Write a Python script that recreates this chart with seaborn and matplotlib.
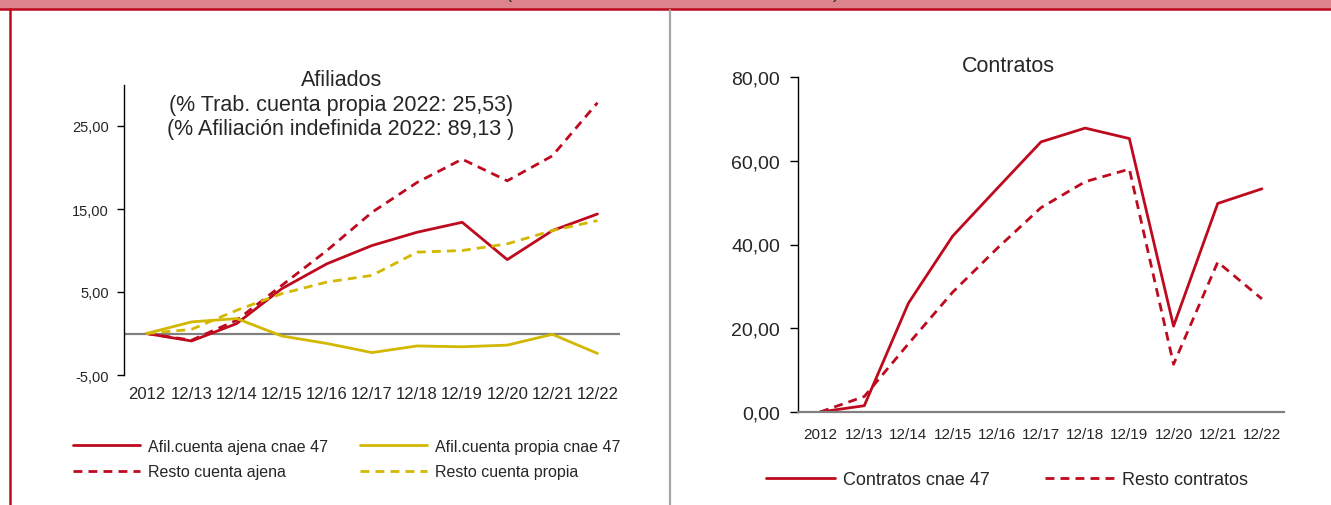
import numpy as np
import pandas as pd
import matplotlib
matplotlib.use("Agg")
import matplotlib.pyplot as plt
import seaborn as sns
from matplotlib.lines import Line2D
from matplotlib.patches import Rectangle

# ==========================================
# DATA
# ==========================================

periods = ["2012", "12/13", "12/14", "12/15", "12/16", "12/17",
           "12/18", "12/19", "12/20", "12/21", "12/22"]

# Afiliados (variacion % acumulada)
afil_ajena_47 = [0, -0.9, 1.2, 5.4, 8.4, 10.6, 12.2, 13.4, 8.9, 12.4, 14.4]
afil_propia_47 = [0, 1.4, 1.8, -0.3, -1.2, -2.3, -1.5, -1.6, -1.4, -0.1, -2.4]
resto_ajena = [0, -0.8, 1.6, 5.8, 10.0, 14.6, 18.2, 21.0, 18.4, 21.4, 27.8]
resto_propia = [0, 0.5, 2.8, 4.8, 6.2, 7.0, 9.8, 10.0, 10.8, 12.4, 13.6]

# Contratos
contratos_47 = [0, 1.5, 26.0, 42.0, 53.3, 64.5, 67.8, 65.3, 20.5, 49.8, 53.3]
resto_contratos = [0, 3.7, 16.3, 28.6, 39.0, 48.8, 55.0, 58.0, 11.4, 35.8, 27.0]

left_yticks = [-5, 5, 15, 25]
right_yticks = [0, 20, 40, 60, 80]

RED = "#BE0A1E"
YELLOW = "#D2B800"
DASH = (0, (3.2, 2.2))

# ==========================================
# STYLE
# ==========================================

sns.set_style("white")
plt.rcParams["font.family"] = ["Liberation Sans", "DejaVu Sans"]

W, H = 1331, 506
fig = plt.figure(figsize=(W / 100, H / 100), dpi=100)


def fx(px):
    return px / W


def fy(py):
    return 1 - py / H


def fmt(v):
    return f"{v:.2f}".replace(".", ",")


# ==========================================
# FRAME / BANNER
# ==========================================

fig.patches.append(Rectangle((0, fy(9)), 1, 9 / H, transform=fig.transFigure,
                             color="#DC848C", zorder=0))
fig.add_artist(Line2D([0, 1], [fy(10), fy(10)], transform=fig.transFigure,
                      color=RED, lw=1.8))
fig.add_artist(Line2D([fx(10), fx(10)], [0, fy(10)], transform=fig.transFigure,
                      color=RED, lw=1.8))
fig.add_artist(Line2D([fx(670), fx(670)], [0, fy(11)], transform=fig.transFigure,
                      color="#A6A6A6", lw=1.6))
# bottom of the clipped banner title
fig.text(fx(509), fy(-1.5), "(", fontsize=13, ha="center", va="baseline")
fig.text(fx(836), fy(-1.5), ")", fontsize=13, ha="center", va="baseline")

# ==========================================
# LEFT: AFILIADOS
# ==========================================

x = np.arange(len(periods))
df_afil = pd.DataFrame({
    "x": x,
    "ajena47": afil_ajena_47,
    "propia47": afil_propia_47,
    "resto_ajena": resto_ajena,
    "resto_propia": resto_propia,
})

ax1 = fig.add_axes([fx(124), fy(376), fx(620) - fx(124), fy(85.5) - fy(376)])
ax1.axhline(0, color="#808080", lw=1.6, zorder=1)

sns.lineplot(data=df_afil, x="x", y="ajena47", ax=ax1, color=RED, lw=2,
             sort=False, label="Afil.cuenta ajena cnae 47")
sns.lineplot(data=df_afil, x="x", y="resto_ajena", ax=ax1, color=RED, lw=2,
             linestyle=DASH, sort=False, label="Resto cuenta ajena")
sns.lineplot(data=df_afil, x="x", y="propia47", ax=ax1, color=YELLOW, lw=2,
             sort=False, label="Afil.cuenta propia cnae 47")
sns.lineplot(data=df_afil, x="x", y="resto_propia", ax=ax1, color=YELLOW, lw=2,
             linestyle=DASH, sort=False, label="Resto cuenta propia")

ax1.set_xlim(-0.5, 10.5)
ax1.set_ylim(-5, 30)
ax1.set_xticks(x)
ax1.set_xticklabels(periods, fontsize=12)
ax1.set_yticks(left_yticks)
ax1.set_yticklabels([fmt(v) for v in left_yticks], fontsize=10.5)
ax1.tick_params(axis="x", length=0, pad=8)
ax1.tick_params(axis="y", direction="out", length=5, width=1, color="black", pad=6,
                left=True)
ax1.set_xlabel("")
ax1.set_ylabel("")
for s in ["top", "right", "bottom"]:
    ax1.spines[s].set_visible(False)
ax1.spines["left"].set_color("black")
ax1.spines["left"].set_linewidth(1)

ax1.legend_.remove()
h1, l1 = ax1.get_legend_handles_labels()
fig.legend(h1, l1, loc="center left", bbox_to_anchor=(fx(73), fy(460)),
           ncol=2, frameon=False, fontsize=11.5, handlelength=4.2,
           handletextpad=0.5, columnspacing=2.0, labelspacing=0.65,
           borderpad=0, borderaxespad=0)

fig.text(fx(342), fy(80), "Afiliados", fontsize=15.5, ha="center", va="center")
fig.text(fx(341), fy(105), "(% Trab. cuenta propia 2022: 25,53)", fontsize=15.5,
         ha="center", va="center")
fig.text(fx(341), fy(130), "(% Afiliación indefinida 2022: 89,13 )", fontsize=15.5,
         ha="center", va="center")

# ==========================================
# RIGHT: CONTRATOS
# ==========================================

df_con = pd.DataFrame({
    "x": x,
    "contratos47": contratos_47,
    "resto": resto_contratos,
})

ax2 = fig.add_axes([fx(798), fy(413), fx(1284) - fx(798), fy(78) - fy(413)])
sns.lineplot(data=df_con, x="x", y="contratos47", ax=ax2, color=RED, lw=2,
             sort=False, label="Contratos cnae 47")
sns.lineplot(data=df_con, x="x", y="resto", ax=ax2, color=RED, lw=2,
             linestyle=DASH, sort=False, label="Resto contratos")

ax2.set_xlim(-0.5, 10.5)
ax2.set_ylim(0, 80)
ax2.set_xticks(x)
ax2.set_xticklabels(periods, fontsize=11)
ax2.set_yticks(right_yticks)
ax2.set_yticklabels([fmt(v) for v in right_yticks], fontsize=14)
ax2.tick_params(axis="x", length=0, pad=11)
ax2.tick_params(axis="y", direction="out", length=6, width=1, color="black", pad=7,
                left=True)
ax2.set_xlabel("")
ax2.set_ylabel("")
for s in ["top", "right"]:
    ax2.spines[s].set_visible(False)
ax2.spines["left"].set_color("black")
ax2.spines["left"].set_linewidth(1)
ax2.spines["bottom"].set_color("#808080")
ax2.spines["bottom"].set_linewidth(1.6)

ax2.legend_.remove()
h2, l2 = ax2.get_legend_handles_labels()
fig.legend(h2, l2, loc="center left", bbox_to_anchor=(fx(766), fy(481)),
           ncol=2, frameon=False, fontsize=13, handlelength=3.8,
           handletextpad=0.45, columnspacing=3.1, borderpad=0, borderaxespad=0)

fig.text(fx(1008), fy(66), "Contratos", fontsize=15.5, ha="center", va="center")

fig.savefig("out.png", dpi=100)
